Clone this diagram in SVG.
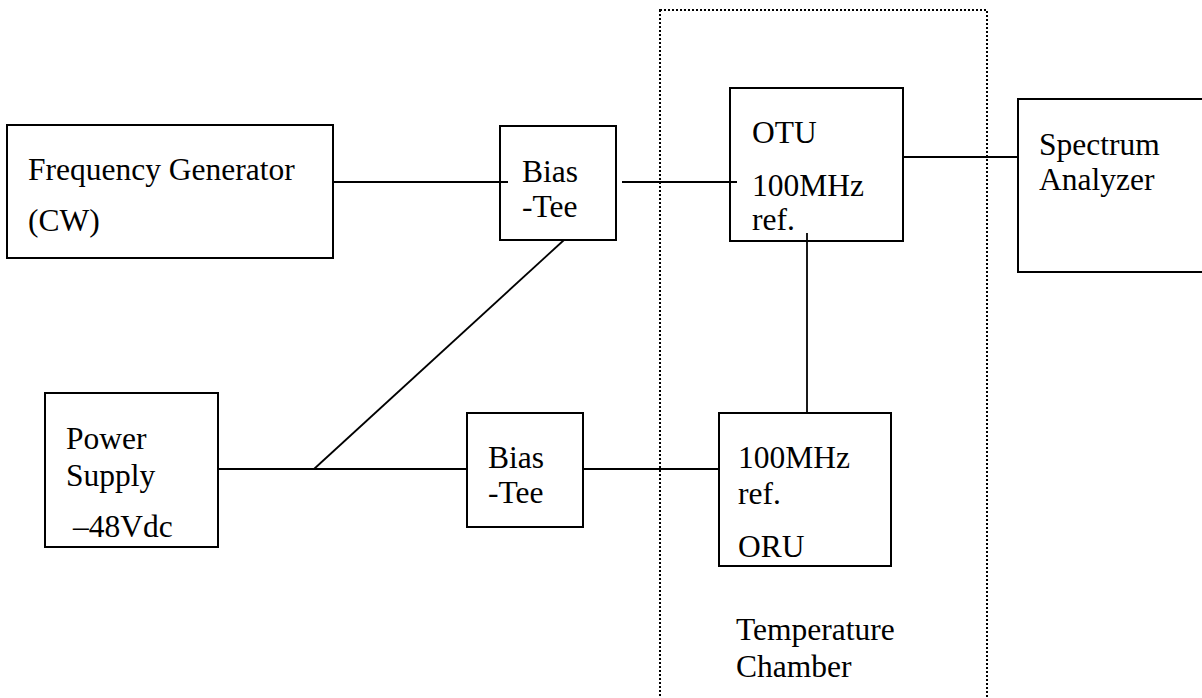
<svg xmlns="http://www.w3.org/2000/svg" width="1202" height="698" viewBox="0 0 1202 698">
  <style>
    .box { fill: #fff; stroke: #000; stroke-width: 2; }
    .wire { fill: none; stroke: #000; stroke-width: 1.8; }
    .chamber { fill: none; stroke: #000; stroke-width: 2; stroke-dasharray: 2 2; }
    text { font-family: "Liberation Serif", "Times New Roman", serif; font-size: 31.5px; fill: #000; }
  </style>
  <rect width="1202" height="698" fill="#fff"/>

  <!-- temperature chamber outline -->
  <g id="chamber">
    <rect class="chamber" x="660" y="10" width="327" height="700"/>
    <text x="736" y="640">Temperature</text>
    <text x="736" y="677">Chamber</text>
  </g>

  <g id="freq-generator">
    <rect class="box" x="7" y="125" width="326" height="133"/>
    <text x="28" y="180">Frequency Generator</text>
    <text x="28" y="231">(CW)</text>
  </g>

  <g id="bias-tee-1">
    <rect class="box" x="500" y="126" width="116" height="114"/>
    <text x="522" y="182">Bias</text>
    <text x="522" y="217">-Tee</text>
  </g>

  <g id="otu">
    <rect class="box" x="730" y="88" width="173" height="153"/>
    <text x="752" y="143">OTU</text>
    <text x="752" y="196">100MHz</text>
    <text x="752" y="230">ref.</text>
  </g>

  <g id="spectrum-analyzer">
    <rect class="box" x="1018" y="99" width="200" height="173"/>
    <text x="1039" y="155">Spectrum</text>
    <text x="1039" y="190">Analyzer</text>
  </g>

  <g id="power-supply">
    <rect class="box" x="45" y="393" width="173" height="154"/>
    <text x="66" y="449">Power</text>
    <text x="66" y="486">Supply</text>
    <text x="73" y="537">–48Vdc</text>
  </g>

  <g id="bias-tee-2">
    <rect class="box" x="467" y="413" width="116" height="114"/>
    <text x="488" y="468">Bias</text>
    <text x="488" y="503">-Tee</text>
  </g>

  <g id="oru">
    <rect class="box" x="719" y="413" width="172" height="153"/>
    <text x="738" y="468">100MHz</text>
    <text x="738" y="504">ref.</text>
    <text x="738" y="557">ORU</text>
  </g>

  <!-- wiring, drawn on top so the short stubs inside boxes stay visible -->
  <g id="connectors">
    <line class="wire" x1="333" y1="182" x2="508" y2="182"/>
    <line class="wire" x1="622" y1="182" x2="737" y2="182"/>
    <line class="wire" x1="903" y1="157" x2="1018" y2="157"/>
    <line class="wire" x1="807" y1="233" x2="807" y2="413"/>
    <line class="wire" x1="564" y1="240" x2="314" y2="469"/>
    <line class="wire" x1="218" y1="469" x2="467" y2="469"/>
    <line class="wire" x1="583" y1="469" x2="719" y2="469"/>
  </g>
</svg>
